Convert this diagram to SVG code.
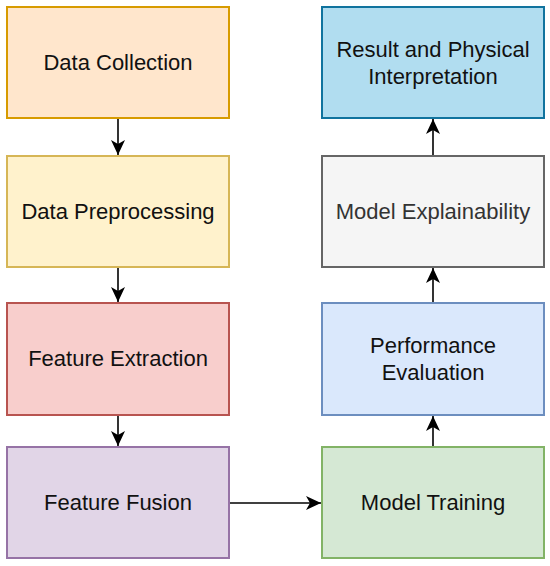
<svg xmlns="http://www.w3.org/2000/svg" width="550" height="566" viewBox="0 0 550 566">
<style>
  rect.box { stroke-width: 2; }
  text { font-family: "Liberation Sans", Arial, sans-serif; font-size: 22px; text-anchor: middle; fill: #111111; }
  .conn line { stroke: #000000; stroke-width: 1.6; fill: none; }
</style>
<defs>
  <marker id="arr" markerWidth="16" markerHeight="16" refX="15" refY="8" orient="auto" markerUnits="userSpaceOnUse">
    <path d="M15,8 L0,1 L4,8 L0,15 Z" fill="#000000"/>
  </marker>
</defs>
<rect width="550" height="566" fill="#ffffff"/>
<g id="data-collection">
  <rect class="box" x="7" y="7" width="222" height="111" fill="#ffe6cc" stroke="#d79b00"/>
  <text x="118" y="70">Data Collection</text>
</g>
<g id="data-preprocessing">
  <rect class="box" x="7" y="156" width="222" height="111" fill="#fff2cc" stroke="#d6b656"/>
  <text x="118" y="219">Data Preprocessing</text>
</g>
<g id="feature-extraction">
  <rect class="box" x="7" y="303" width="222" height="112" fill="#f8cecc" stroke="#b85450"/>
  <text x="118" y="366">Feature Extraction</text>
</g>
<g id="feature-fusion">
  <rect class="box" x="7" y="447" width="222" height="111" fill="#e1d5e7" stroke="#9673a6"/>
  <text x="118" y="510">Feature Fusion</text>
</g>
<g id="model-training">
  <rect class="box" x="322" y="447" width="222" height="111" fill="#d5e8d4" stroke="#82b366"/>
  <text x="433" y="510">Model Training</text>
</g>
<g id="performance-evaluation">
  <rect class="box" x="322" y="303" width="222" height="112" fill="#dae8fc" stroke="#6c8ebf"/>
  <text x="433" y="353">Performance</text>
  <text x="433" y="380">Evaluation</text>
</g>
<g id="model-explainability">
  <rect class="box" x="322" y="156" width="222" height="111" fill="#f5f5f5" stroke="#666666"/>
  <text x="433" y="219" style="fill:#333333">Model Explainability</text>
</g>
<g id="result-interpretation">
  <rect class="box" x="322" y="7" width="222" height="111" fill="#b1ddf0" stroke="#10739e"/>
  <text x="433" y="57">Result and Physical</text>
  <text x="433" y="84">Interpretation</text>
</g>
<g class="conn" id="connectors">
  <line x1="118" y1="119" x2="118" y2="155" marker-end="url(#arr)"/>
  <line x1="118" y1="268" x2="118" y2="302" marker-end="url(#arr)"/>
  <line x1="118" y1="416" x2="118" y2="446" marker-end="url(#arr)"/>
  <line x1="230" y1="503" x2="321" y2="503" marker-end="url(#arr)"/>
  <line x1="433" y1="446" x2="433" y2="416" marker-end="url(#arr)"/>
  <line x1="433" y1="302" x2="433" y2="268" marker-end="url(#arr)"/>
  <line x1="433" y1="155" x2="433" y2="119" marker-end="url(#arr)"/>
</g>
</svg>
